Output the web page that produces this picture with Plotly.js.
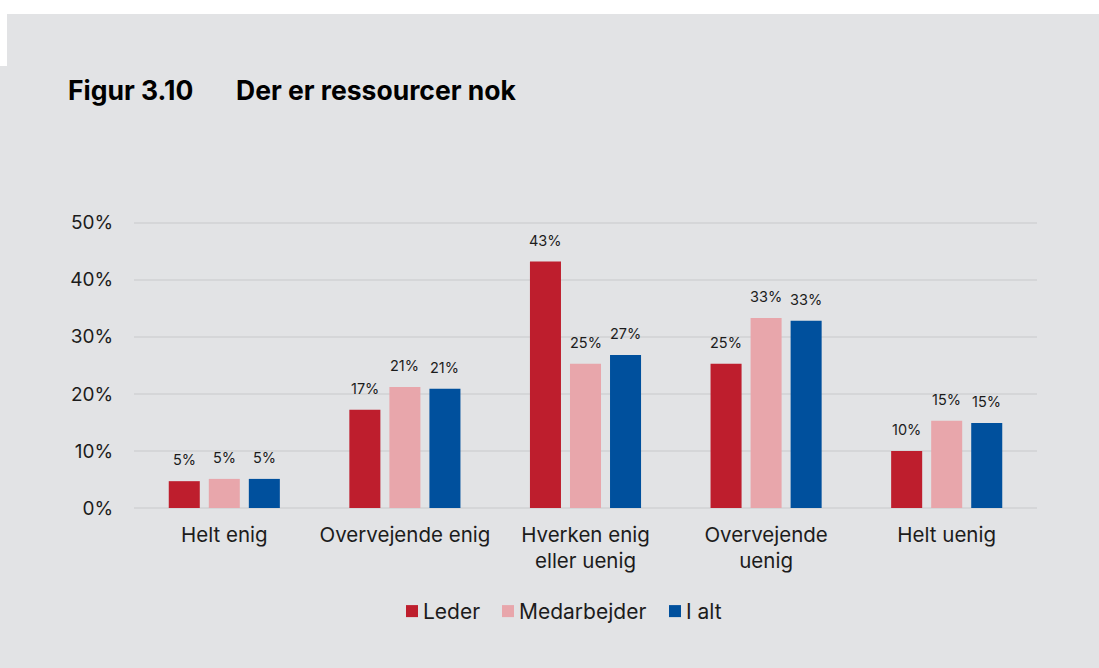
<!DOCTYPE html>
<html>
<head>
<meta charset="utf-8">
<script src="https://cdn.plot.ly/plotly-3.0.1.min.js"></script>
<style>
  html, body { margin: 0; padding: 0; background: #e2e3e5; }
  #wrap { position: relative; width: 1099px; height: 668px; overflow: hidden; }
  #chart { position: absolute; left: 0; top: 0; width: 1099px; height: 668px; }
  .white { position: absolute; background: #ffffff; z-index: 5; }
</style>
</head>
<body>
<div id="wrap">
  <div id="chart"></div>
  <div class="white" style="left:0;top:0;width:1099px;height:14px;"></div>
  <div class="white" style="left:0;top:14px;width:7px;height:52px;"></div>
</div>
<script>
// ---- data ----
const categories = ["Helt enig", "Overvejende enig", "Hverken enig<br>eller uenig", "Overvejende<br>uenig", "Helt uenig"];
const seriesNames = ["Leder", "Medarbejder", "I alt"];
const leder = [4.7, 17.2, 43.2, 25.3, 10.0];
const medarbejder = [5.1, 21.2, 25.3, 33.3, 15.3];
const iAlt = [5.1, 20.9, 26.8, 32.8, 14.9];
const labelsLeder = ["5%", "17%", "43%", "25%", "10%"];
const labelsMedarbejder = ["5%", "21%", "25%", "33%", "15%"];
const labelsIAlt = ["5%", "21%", "27%", "33%", "15%"];
const yTickVals = [0, 10, 20, 30, 40, 50];
const yTickText = ["0%", "10%", "20%", "30%", "40%", "50%"];

const colors = ["#be1e2d", "#e8a6ab", "#00509d"];
const seriesValues = [leder, medarbejder, iAlt];
const seriesLabels = [labelsLeder, labelsMedarbejder, labelsIAlt];
const offsets = [-40, 0, 40];

const FONT = "Inter, 'Noto Sans', sans-serif";
const TXT = "#1c1c1c";

// plot-area geometry (pixels) used to place paper-referenced items
const PL = 134, PW = 903, PB = 508, PH = 290.7;
const px = v => (v - PL) / PW;
const py = v => (PB - v) / PH;

const traces = seriesNames.map((name, i) => ({
  type: "bar",
  name: name,
  x: categories,
  y: seriesValues[i],
  marker: { color: colors[i], line: { width: 0 } },
  hoverinfo: "skip",
  showlegend: false
}));

const annotations = [];
seriesValues.forEach((vals, i) => {
  vals.forEach((v, j) => {
    annotations.push({
      xref: "x", yref: "y", x: categories[j], y: v,
      text: seriesLabels[i][j], showarrow: false,
      xanchor: "center", yanchor: "bottom",
      xshift: offsets[i], yshift: 11,
      font: { family: FONT, size: 14.5, color: TXT }
    });
  });
});
annotations.push({
  xref: "paper", yref: "paper", x: px(66), y: py(90),
  xanchor: "left", yanchor: "middle", showarrow: false,
  text: "<b>Figur 3.10</b>", font: { family: FONT, size: 26.5, color: "#000000" }
});
annotations.push({
  xref: "paper", yref: "paper", x: px(234), y: py(90),
  xanchor: "left", yanchor: "middle", showarrow: false,
  text: "<b>Der er ressourcer nok</b>", font: { family: FONT, size: 26.5, color: "#000000" }
});

// custom legend: swatch shapes + text annotations
const legendSwatchX = [406, 502, 669];
const shapes = [];
seriesNames.forEach((name, i) => {
  shapes.push({
    type: "rect", xref: "paper", yref: "paper",
    x0: px(legendSwatchX[i]), x1: px(legendSwatchX[i] + 12),
    y0: py(617), y1: py(605),
    fillcolor: colors[i], line: { width: 0 }
  });
  annotations.push({
    xref: "paper", yref: "paper", x: px(legendSwatchX[i] + 15), y: py(611),
    xanchor: "left", yanchor: "middle", showarrow: false,
    text: name, font: { family: FONT, size: 21, color: TXT }
  });
});

const layout = {
  width: 1099, height: 668,
  paper_bgcolor: "#e2e3e5", plot_bgcolor: "#e2e3e5",
  margin: { l: 134, r: 62, t: 217, b: 160 },
  barmode: "group", bargap: 0.335, bargroupgap: 0.225,
  font: { family: FONT, color: TXT },
  showlegend: false,
  xaxis: {
    type: "category", showgrid: false, zeroline: false, showline: false,
    ticks: "outside", ticklen: 8, tickcolor: "rgba(0,0,0,0)",
    tickfont: { family: FONT, size: 20.5, color: TXT }
  },
  yaxis: {
    range: [0, 51], tickvals: yTickVals, ticktext: yTickText,
    showgrid: true, gridcolor: "#d5d6d8", gridwidth: 2,
    zeroline: true, zerolinecolor: "#d5d6d8", zerolinewidth: 2,
    showline: false, ticks: "outside", ticklen: 16, tickcolor: "rgba(0,0,0,0)",
    tickfont: { family: FONT, size: 19, color: TXT }
  },
  shapes: shapes,
  annotations: annotations
};

Plotly.newPlot("chart", traces, layout, { staticPlot: true, displayModeBar: false });
</script>
</body>
</html>
